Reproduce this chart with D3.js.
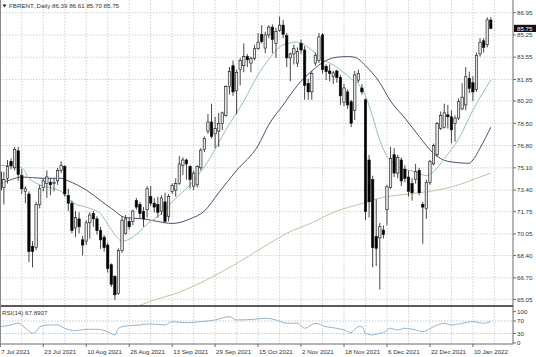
<!DOCTYPE html>
<html><head><meta charset="utf-8">
<script src="https://cdn.jsdelivr.net/npm/d3@7"></script>
<style>
body{margin:0;background:#fff;}
svg{display:block;}
text{font-family:"Liberation Sans",Arial,sans-serif;}
</style>
</head><body>
<svg id="chart" width="536" height="357"></svg>
<script>
// ---------- data ----------
const symbolLabel = "FBRENT.,Daily";
const lastBar = [86.39, 86.61, 85.70, 85.75];
const rsiLabel = "RSI(14) 67.8907";

const opens = [74.8,73.6,74.3,75.6,75.1,76.4,74.5,73.3,73.1,69.1,
 69.0,72.3,73.6,73.9,74.0,73.9,74.1,74.9,75.2,73.0,
 72.4,70.5,71.2,69.6,69.5,70.9,71.6,71.2,70.3,69.8,
 69.2,67.7,66.8,65.5,68.8,70.1,71.0,71.0,72.6,72.3,
 71.75,71.9,72.9,72.4,72.3,71.8,72.5,71.4,73.3,73.4,
 73.9,75.3,75.7,75.2,73.7,73.8,75.1,76.5,77.9,78.6,
 77.7,77.9,78.5,79.1,81.3,82.9,81.0,82.6,82.9,83.6,
 83.1,83.45,84.2,85.3,84.25,85.25,85.85,84.6,85.6,86.0,
 85.2,83.5,83.8,83.1,84.6,84.1,81.55,80.9,83.1,83.3,
 85.25,82.85,82.5,82.1,82.5,82.0,80.1,80.9,80.15,79.5,
 81.8,81.2,80.3,75.7,74.2,69.85,69.75,70.35,71.9,73.6,
 76.1,74.7,75.7,75.0,74.4,73.9,74.2,74.9,72.3,72.0,
 74.0,75.4,76.1,78.1,78.2,79.15,79.0,78.5,78.9,79.6,
 79.9,81.94,81.6,81.1,83.8,84.8,84.5,86.39];
const highs = [75.4,74.8,75.7,75.8,76.7,76.7,75.0,73.7,73.3,69.5,
 72.5,73.8,74.3,74.9,74.3,74.3,75.1,75.6,75.3,73.5,
 72.6,71.8,71.7,69.9,71.1,71.7,71.8,71.4,70.6,69.97,
 69.4,67.8,66.9,68.95,71.4,71.5,71.3,71.9,72.8,72.5,
 72.1,73.7,73.7,72.8,72.9,73.0,73.2,73.1,73.9,74.3,
 76.0,75.9,75.8,75.3,74.9,75.3,76.6,77.5,79.2,80.0,
 79.0,79.3,79.4,81.4,82.8,83.3,82.6,83.5,84.6,83.8,
 83.6,84.5,85.4,86.0,85.5,86.0,86.05,85.8,86.65,86.4,
 85.4,83.9,84.5,84.3,84.9,84.4,81.9,82.5,83.9,85.4,
 85.4,83.0,83.0,82.5,82.6,82.2,81.5,81.1,80.3,82.5,
 82.6,81.5,80.4,76.1,74.5,72.7,70.9,70.7,73.8,76.7,
 76.6,76.1,75.9,75.3,74.9,74.3,75.4,75.1,72.5,74.2,
 75.7,76.95,78.6,79.4,80.0,79.9,79.5,79.1,80.4,81.55,
 82.8,82.45,82.1,83.9,85.0,85.0,86.6,86.61];
const lows = [72.6,72.3,73.9,75.0,74.9,74.1,73.1,72.4,67.9,67.5,
 68.8,72.0,73.3,72.8,73.0,73.3,73.8,74.7,72.9,71.8,
 70.1,69.8,70.1,68.4,69.2,69.7,70.6,70.0,68.9,68.7,
 67.1,66.0,65.0,65.4,68.6,70.0,70.4,70.7,71.9,71.2,
 70.6,71.3,72.2,71.7,71.3,71.5,70.9,71.0,73.1,72.9,
 73.8,74.55,74.2,73.5,73.4,73.6,74.9,76.3,77.7,77.35,
 76.6,76.7,78.0,79.0,80.7,80.6,79.2,81.4,82.4,82.8,
 82.4,83.3,84.1,84.6,83.85,85.0,83.85,83.5,85.5,85.0,
 82.8,81.7,83.0,82.8,83.8,80.3,80.3,80.3,82.9,83.1,
 82.3,81.8,81.7,81.5,81.6,79.9,79.8,79.6,78.2,78.75,
 81.6,80.7,71.1,71.3,67.5,67.6,65.8,69.7,70.7,73.5,
 74.4,74.3,73.7,74.0,72.9,72.6,73.9,73.0,69.3,71.2,
 73.8,75.3,75.95,77.99,78.1,78.1,76.97,77.1,78.75,79.5,
 79.5,80.8,80.2,80.9,83.6,83.9,84.3,85.70];
const closes = [73.4,74.2,75.2,75.25,76.5,74.6,73.5,73.5,68.7,68.7,
 72.3,73.5,74.1,74.4,73.8,74.0,74.9,75.3,73.1,72.4,
 70.3,71.3,70.6,69.2,70.9,71.5,71.2,70.3,69.6,69.0,
 67.4,66.2,65.4,68.8,71.1,71.2,70.6,71.8,72.1,71.6,
 71.2,73.5,72.4,72.1,71.7,72.8,71.0,72.9,73.75,73.9,
 75.4,75.7,75.4,74.2,74.7,75.2,76.45,77.35,78.6,77.5,
 78.1,78.5,79.3,81.3,82.45,80.9,82.4,83.3,83.6,83.35,
 83.45,84.2,84.7,84.75,85.25,85.85,84.9,85.5,86.0,85.3,
 83.5,83.8,84.2,84.0,84.1,81.4,80.9,82.3,83.7,85.1,
 82.6,82.45,82.3,82.35,82.0,80.6,81.2,79.9,78.5,82.2,
 82.3,80.9,71.75,72.5,69.0,68.95,70.6,70.0,73.65,75.8,
 74.7,75.9,74.1,74.3,73.3,73.2,74.8,73.2,72.1,74.0,
 75.6,76.8,78.5,79.1,79.3,79.0,78.0,78.9,80.15,80.5,
 82.06,81.17,80.9,83.7,84.7,84.3,86.4,85.75];

// moving averages: [bar index, value]
const maFast = [[0,75.3],[6,75.1],[8,74.3],[11,73.8],[17,73.3],[20,72.5],[25,72.0],[28,71.6],[30,70.8],[32,70.0],[34,69.5],[37,69.8],[41,70.8],[43,71.2],[45,71.6],[48,72.5],[53,73.8],[58,75.6],[63,78.0],[68,80.2],[72,82.2],[75,83.4],[79,84.5],[83,84.7],[86,84.3],[90,83.4],[94,82.8],[98,81.9],[100,81.5],[102,80.6],[104,79.0],[106,77.2],[108,76.0],[110,75.4],[112,75.05],[116,74.8],[119,74.5],[121,74.8],[124,75.8],[128,77.3],[132,79.5],[137,81.8]];
const maSlow = [[0,73.9],[3,74.2],[6,74.4],[12,74.3],[17,74.3],[19,74.1],[24,73.4],[28,72.6],[31,72.0],[35,71.3],[40,71.2],[44,71.0],[48,70.85],[53,71.2],[57,71.8],[61,73.2],[66,74.9],[72,76.8],[75,78.4],[79,79.9],[83,81.4],[87,82.5],[91,83.3],[94,83.55],[97,83.6],[99,83.55],[102,82.9],[106,81.6],[109,80.2],[113,78.9],[117,77.5],[121,76.2],[125,75.6],[131,75.45],[132,75.7],[134,76.6],[137,78.2]];
const maLong = [[37,64.4],[43,65.0],[50,65.6],[58,66.6],[66,67.8],[75,69.3],[80,70.1],[87,70.9],[94,71.8],[100,72.3],[107,72.85],[114,73.1],[121,73.35],[128,73.8],[133,74.3],[137,74.7]];

const rsi = [[0,51.8],[3,57.3],[5,62.7],[7,46.7],[9,30.7],[10,35.8],[11,51.8],[14,57.3],[16,57.3],[18,46.7],[21,39],[24,43.5],[27,43.5],[30,35.8],[32,25.3],[33,46.7],[35,54],[39,57.3],[42,60.5],[46,57.3],[48,67.8],[52,64.6],[56,67.8],[60,73.3],[64,83.8],[66,73.3],[71,75.5],[74,78.7],[77,73.3],[80,62.7],[83,62.7],[85,46.7],[88,62.7],[91,51.8],[94,46.7],[96,41.3],[98,32.8],[100,51.8],[101,51.8],[102,30.7],[104,25.3],[106,30.7],[107,32.8],[109,46.7],[111,41.3],[113,46.7],[116,41.3],[118,35.8],[121,51.8],[124,62.7],[126,57.3],[129,62.7],[132,67.8],[135,62.7],[137,67.89]];

const priceTicks = [86.95,85.25,83.55,81.85,80.20,78.50,76.80,75.10,73.40,71.75,70.05,68.40,66.70,65.05];
const rsiTicks = [100,70,30,0];
const rsiLevels = [70,30];
const dateTickBars = [0,12,24,36,48,60,72,84,96,108,120,132];
const dateTickLabels = ["7 Jul 2021","23 Jul 2021","10 Aug 2021","26 Aug 2021","13 Sep 2021","29 Sep 2021","15 Oct 2021","2 Nov 2021","18 Nov 2021","6 Dec 2021","22 Dec 2021","10 Jan 2022"];

// ---------- drawing ----------
const svg = d3.select("#chart");
const W = 536, H = 357;
const axisX = 513;
const mainTop = 0, mainBottom = 305;
const subTop = 307, subBottom = 344;

const nBars = closes.length;
const x = d3.scaleLinear().domain([0, nBars - 1]).range([0.3, 490.8]);
const y = d3.scaleLinear().domain([65.05, 86.95]).range([299.4, 12.7]);
const yr = d3.scaleLinear().domain([0, 100]).range([342.9, 311.6]);

svg.append("rect").attr("width", W).attr("height", H).attr("fill", "#fff");

const defs = svg.append("defs");
defs.append("clipPath").attr("id", "mainClip").append("rect")
  .attr("x", 0).attr("y", mainTop).attr("width", axisX).attr("height", mainBottom - mainTop);
defs.append("clipPath").attr("id", "subClip").append("rect")
  .attr("x", 0).attr("y", subTop).attr("width", axisX).attr("height", subBottom - subTop);

const gridColor = "#c6c6c6";
const vgrid = d3.range(0, nBars + 6, 6);
svg.append("g").selectAll("line").data(vgrid).join("line")
  .attr("x1", d => x(d)).attr("x2", d => x(d))
  .attr("y1", mainTop).attr("y2", mainBottom)
  .attr("stroke", gridColor).attr("stroke-width", 0.8).attr("stroke-dasharray", "1.5,1.5")
  .attr("clip-path", "url(#mainClip)");
svg.append("g").selectAll("line").data(vgrid).join("line")
  .attr("x1", d => x(d)).attr("x2", d => x(d))
  .attr("y1", subTop).attr("y2", subBottom)
  .attr("stroke", gridColor).attr("stroke-width", 0.8).attr("stroke-dasharray", "1.5,1.5")
  .attr("clip-path", "url(#subClip)");
svg.append("g").selectAll("line").data(priceTicks).join("line")
  .attr("x1", 0).attr("x2", axisX)
  .attr("y1", d => y(d)).attr("y2", d => y(d))
  .attr("stroke", gridColor).attr("stroke-width", 0.8).attr("stroke-dasharray", "1.5,1.5");
svg.append("g").selectAll("line").data(rsiLevels).join("line")
  .attr("x1", 0).attr("x2", axisX)
  .attr("y1", d => yr(d)).attr("y2", d => yr(d))
  .attr("stroke", "#b8b8b8").attr("stroke-width", 0.8).attr("stroke-dasharray", "1.5,1.5");

const lineGen = (sc) => d3.line().x(d => x(d[0])).y(d => sc(d[1])).curve(d3.curveMonotoneX);
const main = svg.append("g").attr("clip-path", "url(#mainClip)");
main.append("path").datum(maLong).attr("d", lineGen(y)).attr("fill", "none")
  .attr("stroke", "#cdbf9f").attr("stroke-width", 1);
main.append("path").datum(maSlow).attr("d", lineGen(y)).attr("fill", "none")
  .attr("stroke", "#4e4e72").attr("stroke-width", 1);
main.append("path").datum(maFast).attr("d", lineGen(y)).attr("fill", "none")
  .attr("stroke", "#94c2b6").attr("stroke-width", 1);

const bars = d3.range(nBars).map(i => ({i, o: opens[i], h: highs[i], l: lows[i], c: closes[i]}));
const cg = main.append("g");
cg.selectAll("line.wick").data(bars).join("line").attr("class", "wick")
  .attr("x1", d => x(d.i)).attr("x2", d => x(d.i))
  .attr("y1", d => y(d.h)).attr("y2", d => y(d.l))
  .attr("stroke", "#333").attr("stroke-width", 0.9);
const bw = 2.4;
cg.selectAll("rect.body").data(bars).join("rect").attr("class", "body")
  .attr("x", d => x(d.i) - bw / 2)
  .attr("width", bw)
  .attr("y", d => y(Math.max(d.o, d.c)))
  .attr("height", d => Math.max(0.8, Math.abs(y(d.o) - y(d.c))))
  .attr("fill", d => d.c >= d.o ? "#e4e4e4" : "#000")
  .attr("stroke", "#111").attr("stroke-width", 0.6);

svg.append("g").attr("clip-path", "url(#subClip)")
  .append("path").datum(rsi).attr("d", lineGen(yr)).attr("fill", "none")
  .attr("stroke", "#92b5cf").attr("stroke-width", 1);

svg.append("line").attr("x1", axisX).attr("x2", axisX).attr("y1", 0).attr("y2", subBottom)
  .attr("stroke", "#6a6a6a").attr("stroke-width", 1);
svg.append("line").attr("x1", 0).attr("x2", axisX).attr("y1", 306).attr("y2", 306)
  .attr("stroke", "#5a5a5a").attr("stroke-width", 2);
svg.append("line").attr("x1", 0).attr("x2", axisX).attr("y1", subBottom).attr("y2", subBottom)
  .attr("stroke", "#6a6a6a").attr("stroke-width", 1);
svg.append("line").attr("x1", 0.5).attr("x2", 0.5).attr("y1", 0).attr("y2", subBottom)
  .attr("stroke", "#8a8a8a").attr("stroke-width", 1);

const ax = svg.append("g");
ax.selectAll("line").data(priceTicks).join("line")
  .attr("x1", axisX).attr("x2", axisX + 3).attr("y1", d => y(d)).attr("y2", d => y(d))
  .attr("stroke", "#6a6a6a");
ax.selectAll("text").data(priceTicks).join("text")
  .attr("x", axisX + 4).attr("y", d => y(d) + 2.2)
  .attr("font-size", 6.2).attr("fill", "#333").text(d => d.toFixed(2));
svg.append("rect").attr("x", axisX + 1).attr("y", y(lastBar[3]) - 3.6).attr("width", 22).attr("height", 7.2).attr("fill", "#111");
svg.append("text").attr("x", axisX + 4).attr("y", y(lastBar[3]) + 2.2).attr("font-size", 6.2)
  .attr("fill", "#fff").text(lastBar[3].toFixed(2));

const rax = svg.append("g");
rax.selectAll("line").data(rsiTicks).join("line")
  .attr("x1", axisX).attr("x2", axisX + 3).attr("y1", d => yr(d)).attr("y2", d => yr(d))
  .attr("stroke", "#6a6a6a");
rax.selectAll("text").data(rsiTicks).join("text")
  .attr("x", axisX + 4).attr("y", d => yr(d) + 2.2)
  .attr("font-size", 6.2).attr("fill", "#333").text(d => d);

const dax = svg.append("g");
dax.selectAll("line").data(dateTickBars).join("line")
  .attr("x1", d => x(d)).attr("x2", d => x(d)).attr("y1", subBottom).attr("y2", subBottom + 3)
  .attr("stroke", "#6a6a6a");
dax.selectAll("text").data(dateTickBars).join("text")
  .attr("x", d => x(d) + 1).attr("y", 354)
  .attr("font-size", 6.2).attr("fill", "#333").text((d, k) => dateTickLabels[k]);

svg.append("path").attr("d", "M2.5,4.5 L6.5,4.5 L4.5,7.5 Z").attr("fill", "#222");
svg.append("text").attr("x", 9).attr("y", 8).attr("font-size", 6.2).attr("fill", "#333")
  .text(symbolLabel + "  " + lastBar.map(v => v.toFixed(2)).join(" "));
svg.append("text").attr("x", 2).attr("y", 315).attr("font-size", 6.2).attr("fill", "#333")
  .text(rsiLabel);
</script>
</body></html>
